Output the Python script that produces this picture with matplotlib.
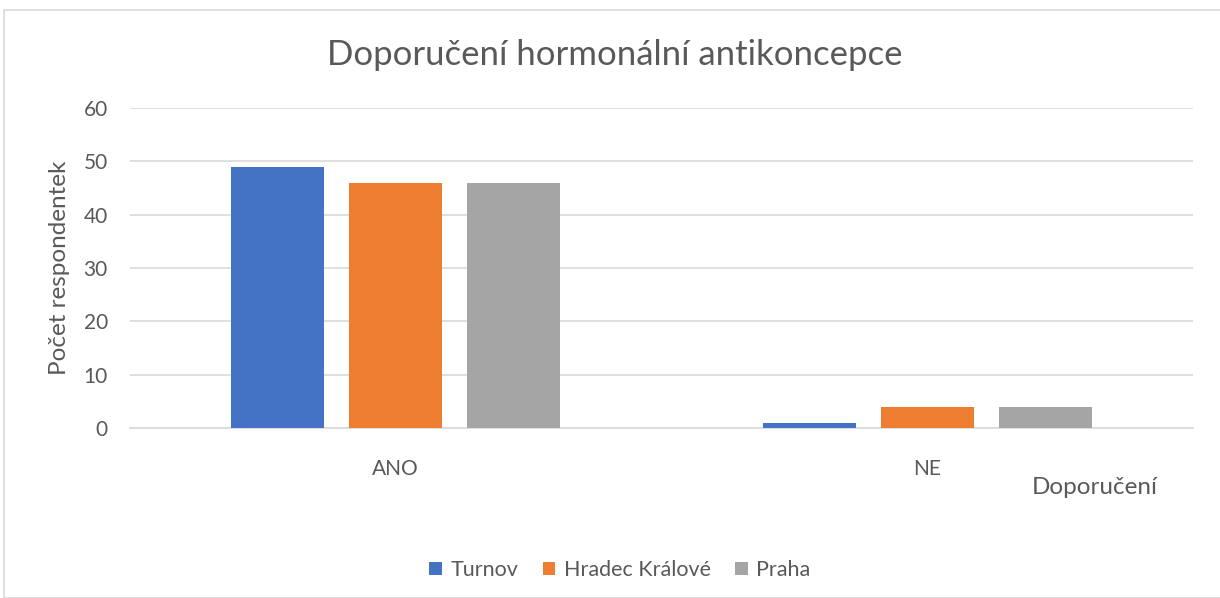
import numpy as np
import matplotlib.pyplot as plt
from matplotlib.patches import Rectangle

categories = ['ANO', 'NE']
series = ['Turnov', 'Hradec Králové', 'Praha']
values = {
    'Turnov': [49, 1],
    'Hradec Králové': [46, 4],
    'Praha': [46, 4],
}
colors = ['#4472C4', '#ED7D31', '#A5A5A5']

plt.rcParams['font.family'] = ['Lato', 'DejaVu Sans']
text_color = '#595959'

fig = plt.figure(figsize=(12.2, 5.98), dpi=100)
fig.patches.append(Rectangle((4 / 1220, 0), 1.0, 1 - 10 / 598, transform=fig.transFigure,
                             fill=False, edgecolor='#d9d9d9', linewidth=1.2))

ax = fig.add_axes([130 / 1220, 1 - 428 / 598, 1063 / 1220, 320 / 598])

x = np.arange(len(categories))
width = 0.175
step = 0.222
for i, (name, col) in enumerate(zip(series, colors)):
    ax.bar(x + (i - 1) * step, values[name], width, color=col, label=name, zorder=3)

ax.set_xlim(-0.5, 1.5)
ax.set_ylim(0, 60)
ax.set_yticks(range(0, 61, 10))
ax.grid(axis='y', color='#d9d9d9', linewidth=1.2, zorder=0)
for s in ['top', 'right', 'left']:
    ax.spines[s].set_visible(False)
ax.spines['bottom'].set_color('#d9d9d9')
ax.spines['bottom'].set_linewidth(1.2)
ax.tick_params(axis='both', length=0, colors=text_color, labelsize=15)
ax.tick_params(axis='x', pad=22)
ax.tick_params(axis='y', pad=16)
ax.set_xticks(x)
ax.set_xticklabels(categories)

ax.set_ylabel('Počet respondentek', fontsize=17.5, color=text_color)
ax.yaxis.set_label_coords(-60 / 1063, 0.5)
fig.text(615 / 1220, 1 - 55 / 598, 'Doporučení hormonální antikoncepce',
         ha='center', va='center', fontsize=25, color=text_color)
fig.text(1158 / 1220, 1 - 488 / 598, 'Doporučení', ha='right', va='center',
         fontsize=17.5, color=text_color)

fig.legend(loc='center', bbox_to_anchor=(620 / 1220, 1 - 570 / 598), ncol=3,
           frameon=False, fontsize=15.5, labelcolor=text_color,
           handlelength=0.6, handleheight=0.6, handletextpad=0.4, columnspacing=1.1)

fig.savefig('out.png', dpi=100)
